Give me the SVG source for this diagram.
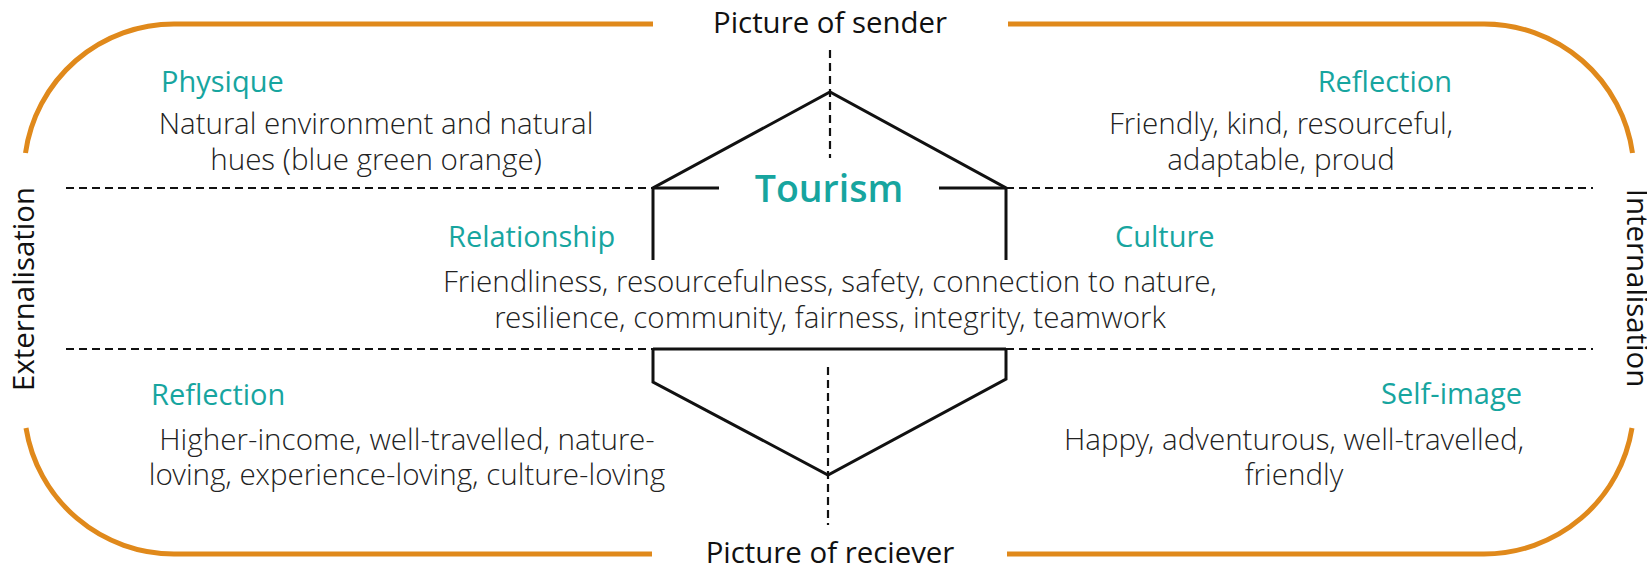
<svg xmlns="http://www.w3.org/2000/svg" width="1647" height="566" viewBox="0 0 1647 566">
  <style>
    .frame { fill: none; stroke: #e0891b; stroke-width: 5; }
    .solid { fill: none; stroke: #111; stroke-width: 3; stroke-linejoin: miter; }
    .dash { fill: none; stroke: #111; stroke-width: 2.2; stroke-dasharray: 8 5; }
    text { font-family: "Open Sans", "Liberation Sans", sans-serif; }
    .label { font-size: 29.4px; fill: #111; font-weight: 400; }
    .head { font-size: 29px; fill: #17a59f; font-weight: 400; }
    .body { font-size: 29.6px; fill: #222; font-family: "Open Sans Light", "Open Sans", "Liberation Sans", sans-serif; font-weight: 300; }
    .title { font-size: 37.5px; fill: #17a59f; font-weight: 600; }
  </style>

  <rect width="1647" height="566" fill="#fff"/>

  <!-- rounded orange frame, open at the four label gaps -->
  <g id="frame">
    <path class="frame" d="M25.5,153 A150,150 0 0 1 174,24 L653,24"/>
    <path class="frame" d="M1008,24 L1484,24 A150,150 0 0 1 1632.5,153"/>
    <path class="frame" d="M26,428 A150,150 0 0 0 174,554 L652,554"/>
    <path class="frame" d="M1007,554 L1484,554 A150,150 0 0 0 1632,428"/>
  </g>

  <!-- dashed axes -->
  <g id="connectors">
    <line class="dash" x1="66" y1="188" x2="653" y2="188"/>
    <line class="dash" x1="1006" y1="188" x2="1593" y2="188"/>
    <line class="dash" x1="66" y1="349" x2="653" y2="349"/>
    <line class="dash" x1="1006" y1="349" x2="1593" y2="349"/>
    <line class="dash" x1="830" y1="50" x2="830" y2="158"/>
    <line class="dash" x1="828" y1="367" x2="828" y2="525"/>
  </g>

  <!-- central hexagon with the Tourism label -->
  <g id="tourism">
    <polyline class="solid" points="653,260 653,188 830,92 1006,188 1006,260"/>
    <line class="solid" x1="653" y1="188" x2="719" y2="188"/>
    <line class="solid" x1="939" y1="188" x2="1006" y2="188"/>
    <polyline class="solid" points="653,349 653,382 828,475 1006,379 1006,349"/>
    <line class="solid" x1="653" y1="349" x2="1006" y2="349"/>
    <text class="title" x="829" y="202" text-anchor="middle">Tourism</text>
  </g>

  <!-- axis labels -->
  <g id="sender">
    <text class="label" x="830" y="33" text-anchor="middle">Picture of sender</text>
  </g>
  <g id="receiver">
    <text class="label" x="830" y="563" text-anchor="middle">Picture of reciever</text>
  </g>
  <g id="externalisation">
    <text class="label" text-anchor="middle" transform="translate(34,289) rotate(-90)">Externalisation</text>
  </g>
  <g id="internalisation">
    <text class="label" text-anchor="middle" transform="translate(1627,288) rotate(90)">Internalisation</text>
  </g>

  <!-- quadrants -->
  <g id="physique">
    <text class="head" x="161" y="92">Physique</text>
    <text class="body" x="376" y="134" text-anchor="middle">Natural environment and natural</text>
    <text class="body" x="376" y="170" text-anchor="middle">hues (blue green orange)</text>
  </g>

  <g id="reflection-sender">
    <text class="head" x="1452" y="92" text-anchor="end">Reflection</text>
    <text class="body" x="1281" y="134" text-anchor="middle">Friendly, kind, resourceful,</text>
    <text class="body" x="1281" y="170" text-anchor="middle">adaptable, proud</text>
  </g>

  <g id="relationship">
    <text class="head" x="448" y="247">Relationship</text>
  </g>

  <g id="culture">
    <text class="head" x="1115" y="247">Culture</text>
  </g>

  <g id="values">
    <text class="body" x="830" y="292" text-anchor="middle">Friendliness, resourcefulness, safety, connection to nature,</text>
    <text class="body" x="830" y="328" text-anchor="middle">resilience, community, fairness, integrity, teamwork</text>
  </g>

  <g id="reflection-receiver">
    <text class="head" x="151" y="405">Reflection</text>
    <text class="body" x="407" y="450" text-anchor="middle">Higher-income, well-travelled, nature-</text>
    <text class="body" x="407" y="485" text-anchor="middle">loving, experience-loving, culture-loving</text>
  </g>

  <g id="self-image">
    <text class="head" x="1522" y="404" text-anchor="end">Self-image</text>
    <text class="body" x="1294" y="450" text-anchor="middle">Happy, adventurous, well-travelled,</text>
    <text class="body" x="1294" y="485" text-anchor="middle">friendly</text>
  </g>
</svg>
